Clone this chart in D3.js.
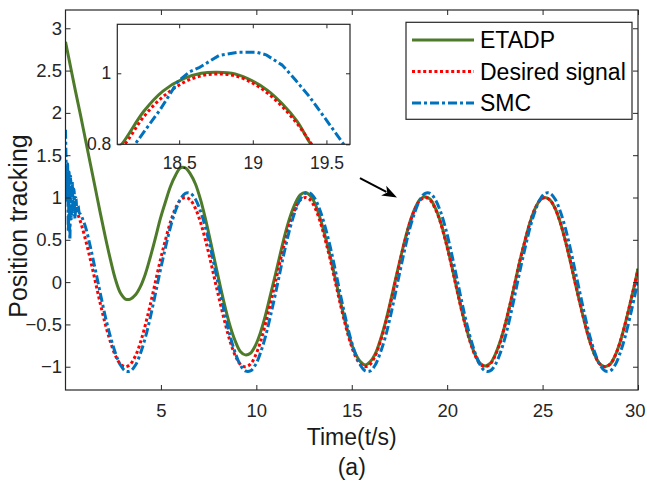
<!DOCTYPE html>
<html>
<head>
<meta charset="utf-8">
<script src="https://cdn.jsdelivr.net/npm/d3@7"></script>
<style>
  html, body { margin: 0; padding: 0; background: #fff; }
  svg { display: block; }
  text { font-family: "Liberation Sans", Arial, Helvetica, sans-serif; }
</style>
</head>
<body>
<svg id="chart" width="647" height="484"></svg>
<script>
// ---------------- data ----------------
const time = [0,0.26,0.52,0.79,1.05,1.31,1.57,1.83,2.09,2.36,2.62,2.88,3.14,3.40,3.67,3.93,4.19,4.45,4.71,4.97,5.24,5.50,5.76,6.02,
  6.28,6.54,6.81,7.07,7.33,7.59,7.85,8.12,8.38,8.64,8.90,9.16,9.42,9.69,9.95,10.21,10.47,10.73,11.00,11.26,11.52,11.78,12.04,12.30,
  12.57,12.83,13.09,13.35,13.61,13.88,14.14,14.40,14.66,14.92,15.18,15.45,15.71,15.97,16.23,16.49,16.76,17.02,17.28,17.54,17.80,18.06,18.33,18.59,
  18.85,19.11,19.37,19.64,19.90,20.16,20.42,20.68,20.94,21.21,21.47,21.73,21.99,22.25,22.51,22.78,23.04,23.30,23.56,23.82,24.09,24.35,24.61,24.87,
  25.13,25.39,25.66,25.92,26.18,26.44,26.70,26.97,27.23,27.49,27.75,28.01,28.27,28.54,28.80,29.06,29.32,29.58,29.85,30.00];

const desired = [1,0.97,0.87,0.71,0.5,0.26,0,-0.26,-0.5,-0.71,-0.87,-0.97,-1,-0.97,-0.87,-0.71,-0.5,-0.26,0,0.26,0.5,0.71,0.87,0.97,
  1,0.97,0.87,0.71,0.5,0.26,0,-0.26,-0.5,-0.71,-0.87,-0.97,-1,-0.97,-0.87,-0.71,-0.5,-0.26,0,0.26,0.5,0.71,0.87,0.97,
  1,0.97,0.87,0.71,0.5,0.26,0,-0.26,-0.5,-0.71,-0.87,-0.97,-1,-0.97,-0.87,-0.71,-0.5,-0.26,0,0.26,0.5,0.71,0.87,0.97,
  1,0.97,0.87,0.71,0.5,0.26,0,-0.26,-0.5,-0.71,-0.87,-0.97,-1,-0.97,-0.87,-0.71,-0.5,-0.26,0,0.26,0.5,0.71,0.87,0.97,
  1,0.97,0.87,0.71,0.5,0.26,0,-0.26,-0.5,-0.71,-0.87,-0.97,-1,-0.97,-0.87,-0.71,-0.5,-0.26,0,0.15];

const etadp = [2.84,2.55,2.26,1.97,1.68,1.39,1.10,0.81,0.53,0.26,0.03,-0.13,-0.20,-0.20,-0.15,-0.05,0.10,0.30,0.52,0.75,0.95,1.13,1.26,1.35,
  1.35,1.28,1.16,0.98,0.75,0.49,0.22,-0.06,-0.31,-0.53,-0.70,-0.82,-0.86,-0.84,-0.75,-0.60,-0.40,-0.16,0.09,0.34,0.58,0.78,0.93,1.03,
  1.06,1.02,0.92,0.75,0.54,0.30,0.04,-0.22,-0.47,-0.68,-0.84,-0.94,-0.98,-0.94,-0.85,-0.69,-0.48,-0.24,0.02,0.27,0.51,0.72,0.88,0.98,
  1.01,0.98,0.88,0.72,0.51,0.27,0.01,-0.25,-0.49,-0.70,-0.86,-0.96,-0.99,-0.96,-0.86,-0.70,-0.50,-0.26,0,0.26,0.50,0.71,0.87,0.97,
  1,0.97,0.87,0.71,0.5,0.26,0,-0.26,-0.5,-0.71,-0.87,-0.97,-1,-0.97,-0.87,-0.71,-0.5,-0.26,0,0.16];

const smc = [null,null,null,0.80,0.65,0.41,0.14,-0.14,-0.41,-0.65,-0.84,-0.98,-1.05,-1.05,-0.98,-0.84,-0.65,-0.41,-0.14,0.14,0.41,0.65,0.84,0.98,
  1.05,1.05,0.98,0.84,0.65,0.41,0.14,-0.14,-0.41,-0.65,-0.84,-0.98,-1.05,-1.05,-0.98,-0.84,-0.65,-0.41,-0.14,0.14,0.41,0.65,0.84,0.98,
  1.05,1.05,0.98,0.84,0.65,0.41,0.14,-0.14,-0.41,-0.65,-0.84,-0.98,-1.05,-1.05,-0.98,-0.84,-0.65,-0.41,-0.14,0.14,0.41,0.65,0.84,0.98,
  1.05,1.05,0.98,0.84,0.65,0.41,0.14,-0.14,-0.41,-0.65,-0.84,-0.98,-1.05,-1.05,-0.98,-0.84,-0.65,-0.41,-0.14,0.14,0.41,0.65,0.84,0.98,
  1.05,1.05,0.98,0.84,0.65,0.41,0.14,-0.14,-0.41,-0.65,-0.84,-0.98,-1.05,-1.05,-0.98,-0.84,-0.65,-0.41,-0.14,0.03];

// SMC chattering at the start
const smcStartTime   = [0,0.03,0.07,0.11,0.15,0.19,0.23,0.27,0.31,0.35,0.40,0.45,0.50,0.55,0.60,0.66,0.72];
const smcStartValues = [1.8,1.45,0.95,1.4,0.6,1.3,0.5,1.25,0.75,1.2,0.8,1.1,0.75,1.0,0.85,0.9,0.82];

// Inset (zoom around t = 19)
const insetEtadpTime   = [18.05,18.11,18.26,18.39,18.53,18.65,18.76,18.88,19.00,19.10,19.20,19.30,19.39,19.45];
const insetEtadpValues = [0.775,0.80,0.893,0.950,0.985,1.000,1.003,0.998,0.978,0.952,0.914,0.865,0.803,0.77];
const insetDesiredTime   = [18.05,18.13,18.26,18.39,18.53,18.65,18.76,18.88,19.00,19.10,19.20,19.30,19.39,19.45];
const insetDesiredValues = [0.77,0.80,0.878,0.934,0.974,0.993,0.998,0.993,0.972,0.944,0.906,0.859,0.806,0.77];
const insetSmcTime   = [18.15,18.20,18.37,18.49,18.57,18.64,18.77,18.90,19.03,19.09,19.20,19.29,19.385,19.50,19.617,19.66];
const insetSmcValues = [0.78,0.80,0.897,0.976,1.004,1.017,1.05,1.059,1.059,1.052,1.023,0.981,0.934,0.868,0.80,0.775];

// Ticks and labels
const xTicks = [5,10,15,20,25,30];
const yTicks = [-1,-0.5,0,0.5,1,1.5,2,2.5,3];
const insetXTicks = [18.5,19,19.5];
const insetYTicks = [0.8,1];
const seriesNames = ["ETADP","Desired signal","SMC"];
const xLabel = "Time(t/s)";
const yLabel = "Position tracking";
const caption = "(a)";
const arrowFrom = [15.43,1.23];
const arrowTo = [17.37,1.0];

// ---------------- drawing ----------------
const svg = d3.select("#chart");
const W = 647, H = 484;
const M = {left: 65.5, right: 638, top: 10, bottom: 390};
const axisColor = "#262626";
const colors = {etadp: "#4e7b2a", desired: "#ff0000", smc: "#0072bd"};
const styles = [
  {color: colors.etadp, dash: null, width: 3},
  {color: colors.desired, dash: "3,2.6", width: 3},
  {color: colors.smc, dash: "9,3,3,3", width: 3}
];

svg.append("rect").attr("width", W).attr("height", H).attr("fill", "#fff");

const x = d3.scaleLinear().domain([0, 30]).range([M.left, M.right]);
const y = d3.scaleLinear().domain([-1.275, 3.216]).range([M.bottom, M.top]);

svg.append("defs").append("clipPath").attr("id", "clipMain")
  .append("rect").attr("x", M.left).attr("y", M.top)
  .attr("width", M.right - M.left).attr("height", M.bottom - M.top);

const line = d3.line().defined(d => d[1] !== null)
  .x(d => x(d[0])).y(d => y(d[1])).curve(d3.curveCatmullRom.alpha(0.5));

const gMain = svg.append("g").attr("clip-path", "url(#clipMain)");
const etadpPts = time.map((t, i) => [t, etadp[i]]);
const desiredPts = time.map((t, i) => [t, desired[i]]);
const smcPts = smcStartTime.map((t, i) => [t, smcStartValues[i]])
  .concat(time.map((t, i) => [t, smc[i]]).filter(d => d[1] !== null));

[etadpPts, desiredPts, smcPts].forEach((pts, i) => {
  gMain.append("path").datum(pts).attr("d", line)
    .attr("fill", "none").attr("stroke", styles[i].color)
    .attr("stroke-width", styles[i].width)
    .attr("stroke-dasharray", styles[i].dash)
    .attr("stroke-linejoin", "round");
});

// Axes (ticks inward, mirrored)
function styleAxis(g) {
  g.select(".domain").remove();
  g.selectAll(".tick line").attr("stroke", axisColor).attr("stroke-width", 1);
  g.selectAll(".tick text").attr("fill", axisColor).style("font-size", "18.5px");
}
const gx = svg.append("g").attr("transform", `translate(0,${M.bottom})`)
  .call(d3.axisBottom(x).tickValues(xTicks).tickSize(-5).tickPadding(14.2).tickFormat(d3.format("~g")))
  .call(styleAxis);
// keep the last label inside the page
gx.selectAll(".tick text").filter(d => d === 30).attr("text-anchor", "end").attr("dx", "7");
svg.append("g").attr("transform", `translate(0,${M.top})`)
  .call(d3.axisTop(x).tickValues(xTicks).tickSize(-5).tickFormat(""))
  .call(styleAxis);
svg.append("g").attr("transform", `translate(${M.left},0)`)
  .call(d3.axisLeft(y).tickValues(yTicks).tickSize(-5).tickPadding(3.5).tickFormat(d3.format("~g")))
  .call(styleAxis);
svg.append("g").attr("transform", `translate(${M.right},0)`)
  .call(d3.axisRight(y).tickValues(yTicks).tickSize(-5).tickFormat(""))
  .call(styleAxis);
svg.append("rect").attr("x", M.left).attr("y", M.top)
  .attr("width", M.right - M.left).attr("height", M.bottom - M.top)
  .attr("fill", "none").attr("stroke", axisColor).attr("stroke-width", 1.2);

// Axis labels
svg.append("text").attr("x", (M.left + M.right) / 2).attr("y", 445)
  .attr("text-anchor", "middle").attr("fill", "#1a1a1a").style("font-size", "23px").text(xLabel);
svg.append("text").attr("transform", "translate(27,226) rotate(-90)")
  .attr("text-anchor", "middle").attr("fill", "#1a1a1a").style("font-size", "25px").text(yLabel);
svg.append("text").attr("x", (M.left + M.right) / 2).attr("y", 475)
  .attr("text-anchor", "middle").attr("fill", "#1a1a1a").style("font-size", "23px").text(caption);

// Arrow
{
  const x1 = x(arrowFrom[0]), y1 = y(arrowFrom[1]), x2 = x(arrowTo[0]), y2 = y(arrowTo[1]);
  const ang = Math.atan2(y2 - y1, x2 - x1), L = 15, Wd = 5.5;
  const bx = x2 - L * Math.cos(ang), by = y2 - L * Math.sin(ang);
  svg.append("line").attr("x1", x1).attr("y1", y1).attr("x2", bx + 3 * Math.cos(ang)).attr("y2", by + 3 * Math.sin(ang))
    .attr("stroke", "#000").attr("stroke-width", 2);
  const p = [[x2, y2],
    [bx + Wd * Math.sin(ang), by - Wd * Math.cos(ang)],
    [bx + 4 * Math.cos(ang), by + 4 * Math.sin(ang)],
    [bx - Wd * Math.sin(ang), by + Wd * Math.cos(ang)]];
  svg.append("path").attr("d", "M" + p.map(q => q.join(",")).join("L") + "Z").attr("fill", "#000");
}

// Inset
const I = {left: 117.3, right: 350, top: 24.3, bottom: 144.3};
const xi = d3.scaleLinear().domain([18.08, 19.66]).range([I.left, I.right]);
const yi = d3.scaleLinear().domain([0.8, 1.138]).range([I.bottom, I.top]);
svg.append("rect").attr("x", I.left).attr("y", I.top)
  .attr("width", I.right - I.left).attr("height", I.bottom - I.top).attr("fill", "#fff");
svg.select("defs").append("clipPath").attr("id", "clipInset")
  .append("rect").attr("x", I.left).attr("y", I.top)
  .attr("width", I.right - I.left).attr("height", I.bottom - I.top);
const gIn = svg.append("g").attr("clip-path", "url(#clipInset)");
const lineInSmooth = d3.line().x(d => xi(d[0])).y(d => yi(d[1])).curve(d3.curveCatmullRom.alpha(0.5));
const lineInLinear = d3.line().x(d => xi(d[0])).y(d => yi(d[1]));
const insetSets = [
  [insetEtadpTime.map((t, i) => [t, insetEtadpValues[i]]), lineInSmooth],
  [insetDesiredTime.map((t, i) => [t, insetDesiredValues[i]]), lineInSmooth],
  [insetSmcTime.map((t, i) => [t, insetSmcValues[i]]), lineInLinear]
];
insetSets.forEach(([pts, gen], i) => {
  gIn.append("path").datum(pts).attr("d", gen)
    .attr("fill", "none").attr("stroke", styles[i].color)
    .attr("stroke-width", styles[i].width)
    .attr("stroke-dasharray", styles[i].dash)
    .attr("stroke-linejoin", "round");
});
function styleInset(g) {
  g.select(".domain").remove();
  g.selectAll(".tick line").attr("stroke", axisColor).attr("stroke-width", 1);
  g.selectAll(".tick text").attr("fill", axisColor).style("font-size", "17.5px");
}
svg.append("g").attr("transform", `translate(0,${I.bottom})`)
  .call(d3.axisBottom(xi).tickValues(insetXTicks).tickSize(-4).tickPadding(12.5).tickFormat(d3.format("~g")))
  .call(styleInset);
svg.append("g").attr("transform", `translate(0,${I.top})`)
  .call(d3.axisTop(xi).tickValues(insetXTicks).tickSize(-4).tickFormat(""))
  .call(styleInset);
svg.append("g").attr("transform", `translate(${I.left},0)`)
  .call(d3.axisLeft(yi).tickValues(insetYTicks).tickSize(-4).tickPadding(6).tickFormat(d3.format("~g")))
  .call(styleInset);
svg.append("g").attr("transform", `translate(${I.right},0)`)
  .call(d3.axisRight(yi).tickValues(insetYTicks).tickSize(-4).tickFormat(""))
  .call(styleInset);
svg.append("rect").attr("x", I.left).attr("y", I.top)
  .attr("width", I.right - I.left).attr("height", I.bottom - I.top)
  .attr("fill", "none").attr("stroke", axisColor).attr("stroke-width", 1.2);

// Legend
const Lg = {left: 406, right: 632, top: 22.3, bottom: 119.3};
svg.append("rect").attr("x", Lg.left).attr("y", Lg.top)
  .attr("width", Lg.right - Lg.left).attr("height", Lg.bottom - Lg.top)
  .attr("fill", "#fff").attr("stroke", axisColor).attr("stroke-width", 1.2);
const rowY = d3.scalePoint().domain(seriesNames).range([40, 103]);
seriesNames.forEach((name, i) => {
  const yy = rowY(name);
  svg.append("line").attr("x1", 412).attr("x2", 474).attr("y1", yy).attr("y2", yy)
    .attr("stroke", styles[i].color).attr("stroke-width", styles[i].width)
    .attr("stroke-dasharray", styles[i].dash);
  svg.append("text").attr("x", 480).attr("y", yy).attr("dy", "0.35em")
    .attr("fill", "#000").style("font-size", "23px").text(name);
});
</script>
</body>
</html>
